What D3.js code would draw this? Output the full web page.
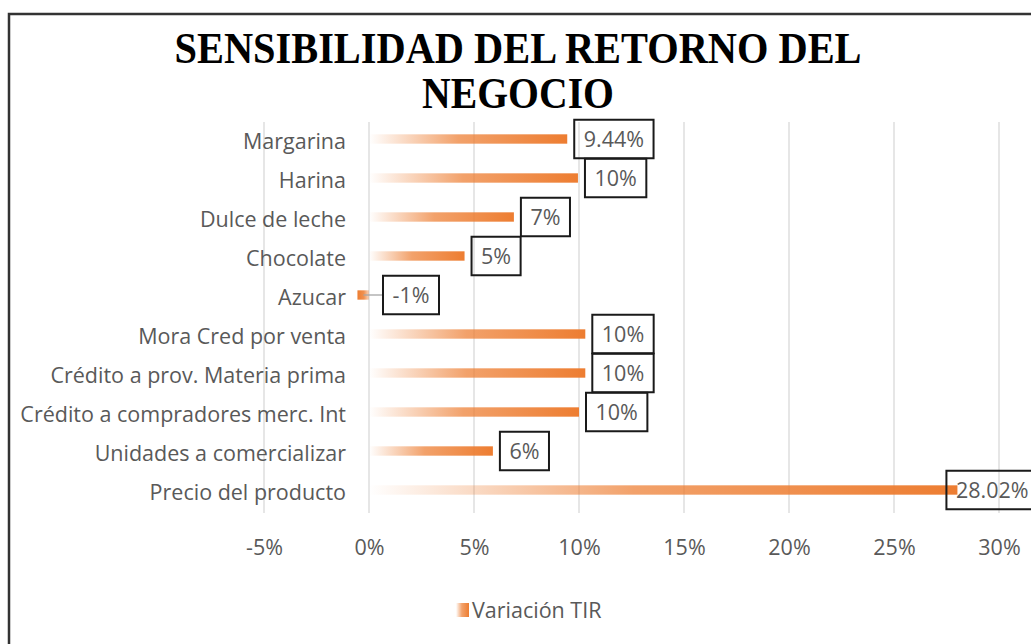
<!DOCTYPE html>
<html>
<head>
<meta charset="utf-8">
<script src="https://cdn.jsdelivr.net/npm/d3@7"></script>
<style>
  html, body { margin: 0; padding: 0; background: #fff; }
  svg { display: block; }
</style>
</head>
<body>
<div id="chart"></div>
<script>
// categorías y valores (variación de la TIR, en %)
const categories = [
  'Margarina', 'Harina', 'Dulce de leche', 'Chocolate', 'Azucar',
  'Mora Cred por venta', 'Crédito a prov. Materia prima',
  'Crédito a compradores merc. Int', 'Unidades a comercializar', 'Precio del producto'
];
const values = [9.44, 9.95, 6.9, 4.55, -0.55, 10.3, 10.3, 10.0, 5.9, 28.02];
const valueLabels = ['9.44%', '10%', '7%', '5%', '-1%', '10%', '10%', '10%', '6%', '28.02%'];
const ticks = [-5, 0, 5, 10, 15, 20, 25, 30];
const titleLines = ['SENSIBILIDAD DEL RETORNO DEL', 'NEGOCIO'];
const seriesName = 'Variación TIR';

const width = 1031, height = 644;
const orange = '#ED7D31';
const grey = '#595959';
const font = '"Open Sans", "Noto Sans", sans-serif';

const svg = d3.select('#chart').append('svg')
  .attr('width', width).attr('height', height);

// degradados de las barras
const defs = svg.append('defs');
const gradPos = defs.append('linearGradient').attr('id', 'gradPos')
  .attr('x1', 0).attr('x2', 1).attr('y1', 0).attr('y2', 0);
gradPos.append('stop').attr('offset', 0).attr('stop-color', orange).attr('stop-opacity', 0);
gradPos.append('stop').attr('offset', 0.45).attr('stop-color', orange).attr('stop-opacity', 0.72);
gradPos.append('stop').attr('offset', 1).attr('stop-color', orange).attr('stop-opacity', 1);
const gradNeg = defs.append('linearGradient').attr('id', 'gradNeg')
  .attr('x1', 1).attr('x2', 0).attr('y1', 0).attr('y2', 0);
gradNeg.append('stop').attr('offset', 0).attr('stop-color', orange).attr('stop-opacity', 0.3);
gradNeg.append('stop').attr('offset', 0.45).attr('stop-color', orange).attr('stop-opacity', 0.85);
gradNeg.append('stop').attr('offset', 1).attr('stop-color', orange).attr('stop-opacity', 1);

// marco del gráfico
svg.append('rect')
  .attr('x', 9).attr('y', 14)
  .attr('width', width + 20).attr('height', height + 20)
  .style('fill', 'none').style('stroke', '#333').style('stroke-width', 2.5);

// título
const titleLen = [687, 192];
titleLines.forEach((line, i) => {
  svg.append('text')
    .attr('x', 518).attr('y', 63 + i * 45)
    .attr('text-anchor', 'middle')
    .attr('textLength', titleLen[i])
    .attr('lengthAdjust', 'spacingAndGlyphs')
    .style('font-family', '"Liberation Serif", "Times New Roman", serif')
    .style('font-weight', 'bold')
    .style('font-size', '44px')
    .style('fill', '#000')
    .text(line);
});

// escalas
const x = d3.scaleLinear().domain([-5, 30]).range([264, 999]);
const y = d3.scaleBand().domain(categories).range([119.5, 509.5]).paddingInner(0.76).paddingOuter(0.38);

// líneas de cuadrícula
const grid = svg.append('g');
grid.selectAll('line').data(ticks).join('line')
  .attr('x1', d => x(d)).attr('x2', d => x(d))
  .attr('y1', 122).attr('y2', 513)
  .style('stroke', '#d9d9d9').style('stroke-width', 1.3);

// eje x (etiquetas)
const xAxis = svg.append('g')
  .attr('transform', 'translate(0,537)')
  .call(d3.axisBottom(x).tickValues(ticks).tickSize(0).tickFormat(d => d + '%'));
xAxis.select('.domain').remove();
xAxis.selectAll('text')
  .style('font-family', font).style('font-size', '21.5px').style('fill', grey);

// eje y (categorías)
const yAxis = svg.append('g')
  .attr('transform', 'translate(346,3)')
  .call(d3.axisLeft(y).tickSize(0).tickPadding(0));
yAxis.select('.domain').remove();
yAxis.selectAll('text')
  .style('font-family', font).style('font-size', '21.5px').style('fill', grey);

// barras
const bh = y.bandwidth();
svg.append('g').selectAll('rect').data(values).join('rect')
  .attr('x', d => x(Math.min(0, d)))
  .attr('y', (d, i) => y(categories[i]) + y.bandwidth() / 2 - bh / 2)
  .attr('width', d => Math.abs(x(d) - x(0)))
  .attr('height', bh)
  .style('fill', d => d < 0 ? 'url(#gradNeg)' : 'url(#gradPos)');

// etiquetas de datos con recuadro
const lab = svg.append('g');
values.forEach((v, i) => {
  const cy = y(categories[i]) + y.bandwidth() / 2;
  const t = lab.append('text')
    .attr('y', cy)
    .attr('dy', '0.36em')
    .attr('text-anchor', 'middle')
    .style('font-family', font).style('font-size', '21.5px').style('fill', grey)
    .text(valueLabels[i]);
  const tw = t.node().getComputedTextLength();
  const bw = tw + 19, bhBox = 38.5;
  let bx = v < 0 ? x(0) + 14 : x(v) + 7;
  if (bx + bw > width - 5) bx = x(v) - 11;
  if (v < 0) {
    lab.insert('line', 'text')
      .attr('x1', x(v) + 6).attr('x2', bx).attr('y1', cy).attr('y2', cy)
      .style('stroke', '#a6a6a6').style('stroke-width', 1.3);
  }
  lab.insert('rect', 'text')
    .attr('x', bx).attr('y', cy - bhBox / 2)
    .attr('width', bw).attr('height', bhBox)
    .style('fill', 'none').style('stroke', '#1a1a1a').style('stroke-width', 2);
  t.attr('x', bx + bw / 2);
});

// leyenda
const leg = svg.append('g').attr('transform', 'translate(456,603)');
leg.append('rect').attr('width', 13).attr('height', 14).style('fill', 'url(#gradPos)');
leg.append('text')
  .attr('x', 16).attr('y', 7).attr('dy', '0.36em')
  .style('font-family', font).style('font-size', '21.5px').style('fill', grey)
  .text(seriesName);
</script>
</body>
</html>
